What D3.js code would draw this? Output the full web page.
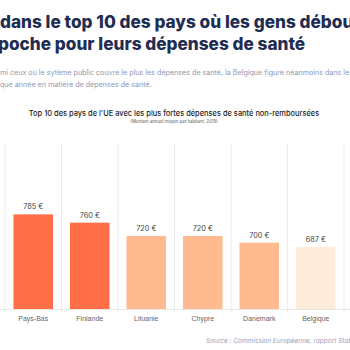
<!DOCTYPE html>
<html>
<head>
  <meta charset="utf-8">
  <title>depenses-sante</title>
  <style>
    body { margin: 0; background: #fff; overflow: hidden; }
    svg { display: block; font-family: Inter, "Open Sans", sans-serif; }
    .axis--x path { display: none; }
    .axis--x line { display: none; }
    .axis text { fill: #666; font-size: 7px; }
  </style>
  <script src="https://cdn.jsdelivr.net/npm/d3@7"></script>
</head>
<body>
<script type="text/javascript">

  // donnees
  var pays = ["Pays-Bas", "Finlande", "Lituanie", "Chypre", "Danemark", "Belgique"];
  var montants = [785, 760, 720, 720, 700, 687];
  var couleurs = ["#ff6e47", "#ff6e47", "#ffba8f", "#ffba8f", "#ffba8f", "#feebd9"];

  var width = 350, height = 350;
  var plot = {top: 143, bottom: 309, left: 5, right: 344};

  var svg = d3.select("body").append("svg")
    .attr("width", width)
    .attr("height", height);

  // titre (coupe a gauche et a droite comme sur la capture)
  var titre = svg.append("g").attr("fill", "#1f2d52")
    .style("font-weight", 800).style("font-size", "17.2px");
  titre.append("text").attr("x", 0).attr("y", 28)
    .text("dans le top 10 des pays où les gens déboursent le plus de leur");
  titre.append("text").attr("x", -2).attr("y", 50)
    .text("poche pour leurs dépenses de santé");

  // chapeau : on decale pour que "Par" / "cha" sorte de la vue
  var chapeau = [
    {txt: "Parmi ceux où le sytème public couvre le plus les dépenses de santé, la Belgique figure néanmoins dans le top 10", cut: 3, y: 75},
    {txt: "chaque année en matière de dépenses de santé.", cut: 3, y: 87}
  ];
  chapeau.forEach(function(c) {
    var t = svg.append("text")
      .attr("y", c.y)
      .attr("fill", "#8e97b3")
      .style("font-size", "7.15px")
      .text(c.txt);
    t.attr("x", -t.node().getSubStringLength(0, c.cut));
  });

  svg.append("text")
    .attr("x", 174).attr("y", 116)
    .attr("text-anchor", "middle")
    .attr("fill", "#222")
    .style("font-size", "7.45px").style("font-weight", 500)
    .text("Top 10 des pays de l'UE avec les plus fortes dépenses de santé non-remboursées");
  svg.append("text")
    .attr("x", 174).attr("y", 123)
    .attr("text-anchor", "middle")
    .attr("fill", "#555")
    .style("font-size", "4.3px")
    .text("(Montant annuel moyen par habitant, 2019)");

  var x = d3.scaleBand()
    .range([plot.left, plot.right])
    .paddingInner(0.3)
    .paddingOuter(0.15)
    .domain(pays);

  var y = d3.scaleLinear()
    .range([plot.bottom, plot.top])
    .domain([500, 1000]);

  // lignes verticales entre les pays
  var bords = d3.range(pays.length + 1).map(function(i) { return plot.left + i * x.step(); });
  svg.append("g").selectAll("line")
    .data(bords)
    .enter().append("line")
      .attr("x1", function(d) { return d; })
      .attr("x2", function(d) { return d; })
      .attr("y1", plot.top)
      .attr("y2", plot.bottom + 4)
      .attr("stroke", "#ececec")
      .attr("stroke-width", 1);

  svg.append("line")
    .attr("x1", 0).attr("x2", width)
    .attr("y1", plot.bottom + 0.5).attr("y2", plot.bottom + 0.5)
    .attr("stroke", "#e6e6e6");

  svg.selectAll(".bar")
    .data(pays)
    .enter().append("rect")
      .attr("class", "bar")
      .attr("x", function(d) { return x(d); })
      .attr("y", function(d, i) { return y(montants[i]); })
      .attr("width", x.bandwidth())
      .attr("height", function(d, i) { return plot.bottom - y(montants[i]); })
      .style("fill", function(d, i) { return couleurs[i]; });

  svg.selectAll(".label")
    .data(pays)
    .enter().append("text")
      .attr("class", "label")
      .attr("x", function(d) { return x(d) + x.bandwidth() / 2; })
      .attr("y", function(d, i) { return y(montants[i]) - 5; })
      .attr("text-anchor", "middle")
      .attr("fill", "#444")
      .style("font-size", "7.3px")
      .text(function(d, i) { return montants[i] + " €"; });

  svg.append("g")
    .attr("class", "axis axis--x")
    .attr("transform", "translate(0," + plot.bottom + ")")
    .call(d3.axisBottom(x).tickSize(0).tickPadding(7));

  svg.append("text")
    .attr("x", 206).attr("y", 343)
    .attr("fill", "#9aa3bd")
    .style("font-size", "6.5px").style("font-style", "italic")
    .text("Source : Commission Européenne, rapport State of Health in the EU");

</script>
</body>
</html>
